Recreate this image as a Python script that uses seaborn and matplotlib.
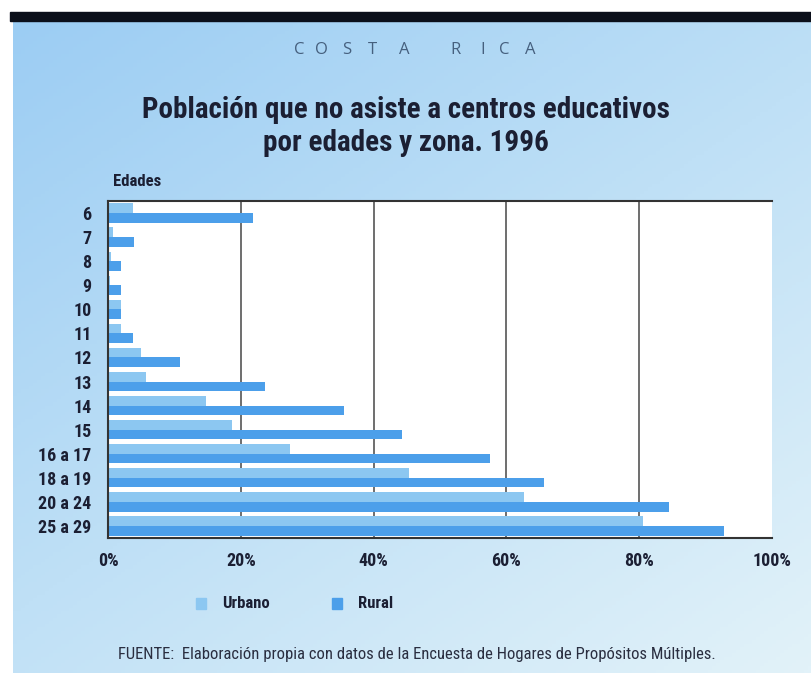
import numpy as np
import pandas as pd
import matplotlib
matplotlib.use("Agg")
import matplotlib.pyplot as plt
from matplotlib import font_manager as fm
from matplotlib.colors import LinearSegmentedColormap
from matplotlib.patches import Rectangle
import seaborn as sns

edades = ["6", "7", "8", "9", "10", "11", "12", "13", "14", "15",
          "16 a 17", "18 a 19", "20 a 24", "25 a 29"]
urbano = [3.7, 0.8, 0.5, 0.3, 1.9, 1.9, 4.9, 5.7, 14.7, 18.6, 27.4, 45.4, 62.6, 80.6]
rural = [21.8, 3.9, 1.9, 1.9, 1.9, 3.7, 10.8, 23.6, 35.6, 44.3, 57.5, 65.6, 84.5, 92.7]
zonas = ["Urbano", "Rural"]
xticks = [0, 20, 40, 60, 80, 100]
xticklabels = ["0%", "20%", "40%", "60%", "80%", "100%"]

df = pd.DataFrame({
    "Edad": edades * 2,
    "Valor": urbano + rural,
    "Zona": ["Urbano"] * len(edades) + ["Rural"] * len(edades),
})

sns.set_theme(style="white")

# choose a condensed font if one is installed
names = {(f.name, f.stretch) for f in fm.fontManager.ttflist}
allnames = {n for n, s in names}
STRETCH = "normal"
SCALE = 1.0
if "Roboto Condensed" in allnames:
    MAIN = "Roboto Condensed"; SCALE = 1.0
elif "Liberation Sans Narrow" in allnames:
    MAIN = "Liberation Sans Narrow"; SCALE = 1.0
elif ("DejaVu Sans", "condensed") in names:
    MAIN = "DejaVu Sans"; STRETCH = "condensed"; SCALE = 0.85
else:
    MAIN = "Liberation Sans"; SCALE = 0.8
FONT = [MAIN, "DejaVu Sans"]
plt.rcParams["font.family"] = FONT
plt.rcParams["font.stretch"] = STRETCH

C_URB = "#8cc7f1"
C_RUR = "#4c9fea"
TXT = "#1b1f33"

W, H = 812, 673
fig = plt.figure(figsize=(W / 100, H / 100), dpi=100, facecolor="white")

# background panel with gradient
bg = fig.add_axes([13 / W, 0, 1 - 13 / W, 1 - 21 / H])
bg.set_axis_off()
yy, xx = np.mgrid[0:1:200j, 0:1:200j]
grad = 0.55 * yy + 0.45 * xx
cmap = LinearSegmentedColormap.from_list("bgc", ["#9ccdf3", "#bfe0f6", "#e2f2f9"])
bg.imshow(grad, cmap=cmap, aspect="auto", extent=[0, 1, 0, 1], origin="upper")
bg.set_xlim(0, 1)
bg.set_ylim(0, 1)

# black top band
fig.patches.append(Rectangle((10 / W, 1 - 21 / H), 1 - 10 / W, 9 / H,
                             transform=fig.transFigure, color="#0b0f1a", zorder=5))

ax = fig.add_axes([108 / W, 1 - 538 / H, (772 - 108) / W, (538 - 201) / H])
ax.set_facecolor("white")
sns.barplot(data=df, y="Edad", x="Valor", hue="Zona", order=edades, hue_order=zonas,
            palette={"Urbano": C_URB, "Rural": C_RUR}, orient="h", ax=ax,
            width=0.8, legend=False, saturation=1, linewidth=0)
ax.set_xlim(0, 100)
ax.set_ylim(len(edades) - 0.5, -0.5)
ax.set_xticks(xticks)
ax.set_xticklabels(xticklabels)
ax.set_xlabel("")
ax.set_ylabel("")
for v in xticks[1:-1]:
    ax.axvline(v, color="#555555", lw=1.2, zorder=0)
for s in ["left", "top", "bottom"]:
    ax.spines[s].set_visible(True)
    ax.spines[s].set_color("#333333")
    ax.spines[s].set_linewidth(1.5)
ax.spines["right"].set_visible(False)
ax.tick_params(axis="both", length=0)
for lab in list(ax.get_yticklabels()) + list(ax.get_xticklabels()):
    lab.set_fontweight("bold")
    lab.set_fontsize(13 * SCALE)
    lab.set_color(TXT)
    lab.set_family(FONT)
    lab.set_fontstretch(STRETCH)
ax.tick_params(axis="y", pad=12)
ax.tick_params(axis="x", pad=10)

# spaced-out country header
header = ["C", "O", "S", "T", "A", "R", "I", "C", "A"]
header_x = [299, 321, 347, 372, 404, 456, 483, 504, 530]
for ch, hx in zip(header, header_x):
    fig.text(hx / W, 1 - 50 / H, ch, ha="center", va="center",
             fontsize=12, color="#46607e", family=["Open Sans", "DejaVu Sans"],
             fontweight="normal")

fig.text(406 / W, 1 - 110 / H, "Población que no asiste a centros educativos",
         ha="center", va="center", fontsize=21 * SCALE, fontweight="bold", color=TXT,
         fontstretch=STRETCH)
fig.text(406 / W, 1 - 143 / H, "por edades y zona. 1996",
         ha="center", va="center", fontsize=21 * SCALE, fontweight="bold", color=TXT,
         fontstretch=STRETCH)
fig.text(113 / W, 1 - 182 / H, "Edades", ha="left", va="center",
         fontsize=12 * SCALE, fontweight="bold", color=TXT, fontstretch=STRETCH)

# legend
for xpos, name, col in [(196, "Urbano", C_URB), (332, "Rural", C_RUR)]:
    fig.patches.append(Rectangle((xpos / W, 1 - 609 / H), 10 / W, 11 / H,
                                 transform=fig.transFigure, color=col, zorder=5))
    fig.text((xpos + 26) / W, 1 - 603 / H, name, ha="left", va="center",
             fontsize=12 * SCALE, fontweight="bold", color=TXT, fontstretch=STRETCH)

fig.text(118 / W, 1 - 655 / H,
         "FUENTE:  Elaboración propia con datos de la Encuesta de Hogares de Propósitos Múltiples.",
         ha="left", va="center", fontsize=12 * SCALE, color="#2a2e40", fontstretch=STRETCH)

fig.savefig("out.png", dpi=100, facecolor="white")
